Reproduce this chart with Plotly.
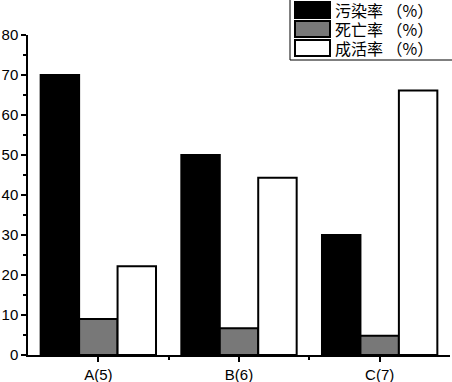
import plotly.graph_objects as go

categories = ["A(5)", "B(6)", "C(7)"]
series_names = ["污染率 （%）", "死亡率 （%）", "成活率 （%）"]
contamination = [70, 50, 30]
mortality = [9, 6.7, 4.8]
survival = [22.2, 44.3, 66.1]
y_ticks = [0, 10, 20, 30, 40, 50, 60, 70, 80]

colors = ["#000000", "#787878", "#ffffff"]
values = [contamination, mortality, survival]
xpos = list(range(len(categories)))

fig = go.Figure()
for name, vals, col in zip(series_names, values, colors):
    fig.add_trace(go.Bar(x=xpos, y=vals, name=name, marker=dict(color=col, line=dict(color="black", width=2)),
                         showlegend=False))

fig.update_layout(
    width=452, height=382,
    margin=dict(l=28, r=2, t=35, b=27, autoexpand=False),
    paper_bgcolor="white", plot_bgcolor="white",
    barmode="group", bargap=0.18, bargroupgap=0.0,
    font=dict(family="Liberation Sans, Arial", size=15, color="black"),
    xaxis=dict(range=[-0.5, 2.5], tickvals=xpos, ticktext=categories, showline=True, linecolor="black", linewidth=1.5,
               ticks="outside", ticklen=5, tickwidth=1.5, tickcolor="black", showgrid=False, zeroline=False,
               automargin=False,
               minor=dict(tickvals=[0.5, 1.5], ticks="outside", ticklen=3, tickwidth=1.5, tickcolor="black")),
    yaxis=dict(range=[0, 80], tickvals=y_ticks, showline=True, linecolor="black", linewidth=1.5,
               ticks="outside", ticklen=5, tickwidth=1.5, tickcolor="black", showgrid=False, zeroline=False,
               automargin=False,
               minor=dict(dtick=5, ticks="outside", ticklen=3, tickwidth=1.5, tickcolor="black")),
)

# custom legend with large swatches
fig.add_shape(type="rect", xref="paper", yref="paper", x0=(290 - 28) / 422, x1=1.01, y0=(355 - 60) / 320, y1=1.12,
              line=dict(color="black", width=1), fillcolor="white", layer="above")
rows_y = [10, 29, 48]
for name, col, yc in zip(series_names, colors, rows_y):
    ytop = (355 - (yc - 8)) / 320
    ybot = (355 - (yc + 8)) / 320
    fig.add_shape(type="rect", xref="paper", yref="paper", x0=(295 - 28) / 422, x1=(330 - 28) / 422,
                  y0=ybot, y1=ytop, fillcolor=col, line=dict(color="black", width=2), layer="above")
    fig.add_annotation(xref="paper", yref="paper", x=(334 - 28) / 422, y=(355 - yc) / 320, text=name,
                       showarrow=False, xanchor="left", yanchor="middle", borderpad=0, height=18, valign="middle",
                       font=dict(family="Noto Sans CJK SC", size=16, color="black"))

fig.write_html("out.html", config={"displayModeBar": False},
               post_script="document.body.style.margin='0';document.body.style.overflow='hidden';")
